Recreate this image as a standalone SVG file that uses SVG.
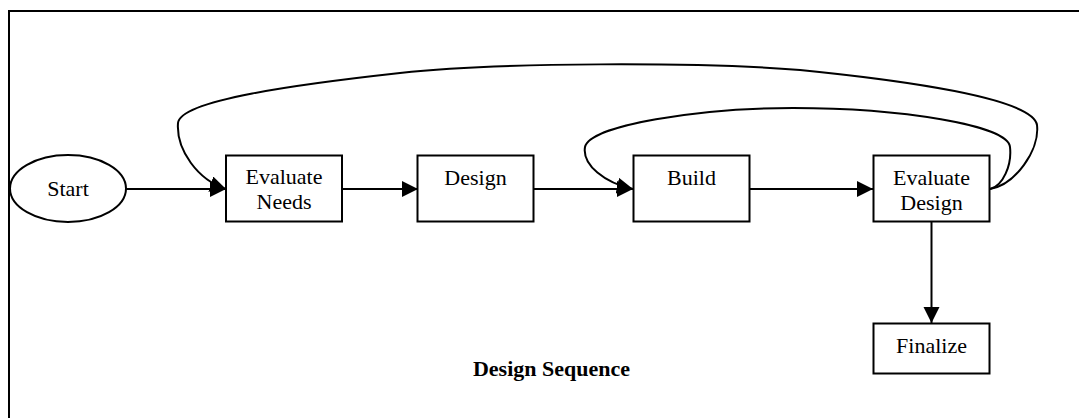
<svg xmlns="http://www.w3.org/2000/svg" width="1079" height="418" viewBox="0 0 1079 418">
<style>
.n{fill:#fff;stroke:#000;stroke-width:2}
.t{font-family:"Liberation Serif","Times New Roman",serif;font-size:22px;fill:#000;text-anchor:middle}
.b{font-weight:bold}
.c{fill:none;stroke:#000;stroke-width:2}
</style>
<defs>
<marker id="ah" markerUnits="userSpaceOnUse" markerWidth="18" markerHeight="18" refX="16" refY="8" orient="auto">
<path d="M0,0 L16,8 L0,16 Z" fill="#000"/>
</marker>
</defs>
<rect x="0" y="0" width="1079" height="418" fill="#fff"/>
<rect x="9" y="11" width="1090" height="430" fill="none" stroke="#000" stroke-width="2"/>
<g id="connectors">
<path class="c" d="M126,189 L226,189" marker-end="url(#ah)"/>
<path class="c" d="M342,189 L418,189" marker-end="url(#ah)"/>
<path class="c" d="M533,189 L633,189" marker-end="url(#ah)"/>
<path class="c" d="M750,189 L873,189" marker-end="url(#ah)"/>
<path class="c" d="M931.5,222 L931.5,323" marker-end="url(#ah)"/>
<path class="c" d="M990,189 C1015,185 1040,150 1037,125 C1033,98 900,80 800,70 C700,62 500,62 400,73 C300,84 180,100 178,123 C176,150 198,180 226,189" marker-end="url(#ah)"/>
<path class="c" d="M990,189 C1003,186 1012,165 1010,147 C1008,125 900,108 793,108 C700,108 590,125 585,147 C582,165 605,183 633,189" marker-end="url(#ah)"/>
</g>
<g id="start">
<ellipse class="n" cx="68" cy="188.5" rx="58" ry="33.5"/>
<text class="t" x="68" y="196">Start</text>
</g>
<g id="evaluate-needs">
<rect class="n" x="226" y="155.5" width="116" height="66"/>
<text class="t" x="284" y="184">Evaluate</text>
<text class="t" x="284" y="209">Needs</text>
</g>
<g id="design">
<rect class="n" x="417.5" y="155.5" width="116" height="66"/>
<text class="t" x="475.5" y="185">Design</text>
</g>
<g id="build">
<rect class="n" x="633.5" y="155.5" width="116" height="66"/>
<text class="t" x="691.5" y="185">Build</text>
</g>
<g id="evaluate-design">
<rect class="n" x="873.5" y="155.5" width="116" height="66"/>
<text class="t" x="931.5" y="185">Evaluate</text>
<text class="t" x="931.5" y="210">Design</text>
</g>
<g id="finalize">
<rect class="n" x="873.5" y="323.5" width="116" height="50"/>
<text class="t" x="931.5" y="353">Finalize</text>
</g>
<g id="caption">
<text class="t b" x="551.5" y="376">Design Sequence</text>
</g>
</svg>
